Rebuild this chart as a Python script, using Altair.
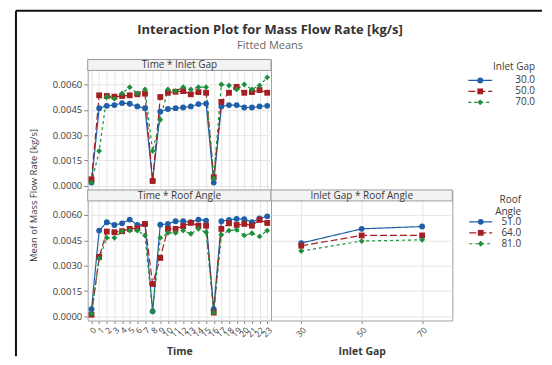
import altair as alt
import pandas as pd

FONT = "Open Sans"

# ---------------- data ----------------
times = list(range(24))
gap_levels = ["30.0", "50.0", "70.0"]
angle_levels = ["51.0", "64.0", "81.0"]
gap_ticks = ["30", "50", "70"]
y_ticks = [0.0, 0.0015, 0.0030, 0.0045, 0.0060]
main_title = "Interaction Plot for Mass Flow Rate [kg/s]"
sub_title = "Fitted Means"

# Time * Inlet Gap
tg_30 = [0.0002, 0.0046, 0.00474, 0.00478, 0.0049, 0.00486, 0.0047, 0.0046,
         0.0003, 0.0044, 0.00455, 0.0046, 0.00464, 0.0047, 0.00484, 0.00487,
         0.0002, 0.0047, 0.00478, 0.00478, 0.00464, 0.00464, 0.0047, 0.00474]
tg_50 = [0.00039, 0.00536, 0.00532, 0.00528, 0.00532, 0.00536, 0.00542, 0.00546,
         0.00029, 0.00526, 0.00551, 0.00557, 0.00561, 0.00542, 0.00555, 0.00551,
         0.00052, 0.00497, 0.00551, 0.00586, 0.00551, 0.00555, 0.00567, 0.00551]
tg_70 = [0.00019, 0.00207, 0.00528, 0.00516, 0.00547, 0.00584, 0.00547, 0.00571,
         0.00207, 0.00391, 0.00571, 0.00561, 0.00584, 0.00571, 0.00584, 0.00584,
         0.00045, 0.0060, 0.00594, 0.00571, 0.0060, 0.00571, 0.00594, 0.00642]

# Time * Roof Angle
ta_51 = [0.00043, 0.00508, 0.00557, 0.00541, 0.00551, 0.00573, 0.00541, 0.00547,
         0.0003, 0.00543, 0.00547, 0.00563, 0.00563, 0.00557, 0.00573, 0.00567,
         0.00043, 0.00563, 0.00571, 0.00577, 0.00575, 0.00557, 0.0058, 0.00592]
ta_64 = [0.0001, 0.00352, 0.00502, 0.00498, 0.00504, 0.00518, 0.00522, 0.00547,
         0.00192, 0.00346, 0.00518, 0.00518, 0.00534, 0.00553, 0.00537, 0.00537,
         0.00023, 0.00518, 0.00551, 0.00541, 0.00547, 0.00537, 0.00571, 0.00553]
ta_81 = [0.00016, 0.00342, 0.00465, 0.00465, 0.00504, 0.00508, 0.00508, 0.00479,
         0.00029, 0.00465, 0.00494, 0.00494, 0.00508, 0.00489, 0.00518, 0.00498,
         0.00023, 0.00483, 0.00508, 0.00512, 0.00479, 0.00492, 0.00473, 0.00508]

# Inlet Gap * Roof Angle
ga_51 = [0.00434, 0.00518, 0.00532]
ga_64 = [0.00418, 0.00479, 0.00479]
ga_81 = [0.00387, 0.00446, 0.00453]

# ---------------- styling ----------------
COLORS = ["#1f5fa8", "#a51f22", "#1d8f3a"]
DASHES = [[1, 0], [7, 3], [3, 3]]
SHAPES = ["circle", "square", "diamond"]
YDOM = [-0.00024, 0.00748]
STRIP_H = 11
PANEL_H = 131
LEFT_W = 184
RIGHT_W = 182
TXT = "#3a3a3a"
MSIZE = 34


def long_df(xs, series, xname, lname):
    rows = []
    for lvl, vals in series:
        for x, v in zip(xs, vals):
            rows.append({xname: x, lname: lvl, "value": v})
    return pd.DataFrame(rows)


df_tg = long_df(times, [(gap_levels[0], tg_30), (gap_levels[1], tg_50), (gap_levels[2], tg_70)], "Time", "Inlet Gap")
df_ta = long_df(times, [(angle_levels[0], ta_51), (angle_levels[1], ta_64), (angle_levels[2], ta_81)], "Time", "Roof Angle")
df_ga = long_df(gap_ticks, [(angle_levels[0], ga_51), (angle_levels[1], ga_64), (angle_levels[2], ga_81)], "Inlet Gap", "Roof Angle")


def panel(df, xfield, xsort, lfield, levels, strip, w, show_x, x_title, show_y, y_title=None, frame=False):
    color = alt.Color(f"{lfield}:N", scale=alt.Scale(domain=levels, range=COLORS), legend=None)
    dash = alt.StrokeDash(f"{lfield}:N", scale=alt.Scale(domain=levels, range=DASHES), legend=None)
    shape = alt.Shape(f"{lfield}:N", scale=alt.Scale(domain=levels, range=SHAPES), legend=None)
    xaxis_kw = dict(grid=True, domain=False, labels=show_x, ticks=show_x,
                    labelAngle=-45, labelFontSize=8.5, labelColor=TXT, tickSize=3,
                    tickColor="#888", labelPadding=2)
    if show_x:
        xaxis_kw.update(title=x_title, titleFontSize=10.5, titleFontWeight="bold",
                        titleColor=TXT, titlePadding=8)
    else:
        xaxis_kw.update(title=None)
    x = alt.X(f"{xfield}:O", sort=xsort, scale=alt.Scale(type="point", padding=0.5),
              axis=alt.Axis(**xaxis_kw))
    yaxis_kw = dict(values=y_ticks, format=".4f", grid=True, domain=False,
                    labels=show_y, ticks=show_y, labelFontSize=9.5, labelColor=TXT,
                    tickSize=4, tickColor="#888", labelPadding=2)
    if y_title:
        yaxis_kw.update(title=y_title, titleFontSize=9.5, titleFontWeight="normal",
                        titleColor=TXT, titleY=136, titlePadding=14)
    else:
        yaxis_kw.update(title=None)
    y = alt.Y("value:Q", scale=alt.Scale(domain=YDOM, nice=False, zero=False),
              axis=alt.Axis(**yaxis_kw))
    base = alt.Chart(df)
    lines = base.mark_line(strokeWidth=1.2).encode(x=x, y=y, color=color, strokeDash=dash)
    pts = base.mark_point(filled=True, size=MSIZE, opacity=1).encode(x=x, y=y, color=color, shape=shape)
    sdf = pd.DataFrame({"s": [strip], "t": [main_title], "u": [sub_title]})
    rect = alt.Chart(sdf).mark_rect(fill="#f3f3f3", stroke="#9a9a9a", strokeWidth=1).encode(
        x=alt.value(0), x2=alt.value(w), y=alt.value(0), y2=alt.value(STRIP_H))
    txt = alt.Chart(sdf).mark_text(fontSize=10, color=TXT, font=FONT, baseline="middle").encode(
        text="s:N", x=alt.value(w / 2), y=alt.value(STRIP_H / 2 + 0.5))
    layers = [lines, pts, rect, txt]
    if frame:
        # dark frame of the captured window (top and left edges)
        top_edge = alt.Chart(sdf).mark_rule(color="#111", strokeWidth=2).encode(
            x=alt.value(-72), x2=alt.value(456), y=alt.value(-49))
        left_edge = alt.Chart(sdf).mark_rule(color="#111", strokeWidth=2).encode(
            x=alt.value(-72), y=alt.value(-49), y2=alt.value(298))
        ttl = alt.Chart(sdf).mark_text(fontSize=13, fontWeight="bold", color="#333", font=FONT,
                                       baseline="middle", align="center").encode(
            text="t:N", x=alt.value(183), y=alt.value(-30))
        sub = alt.Chart(sdf).mark_text(fontSize=11, color="#666", font=FONT,
                                       baseline="middle", align="center").encode(
            text="u:N", x=alt.value(183), y=alt.value(-14))
        layers += [top_edge, left_edge, ttl, sub]
    return alt.layer(*layers).properties(
        width=w, height=PANEL_H, view=alt.ViewBackground(stroke="#a0a0a0", strokeWidth=1))


def legend_chart(title, levels, w, h, line_x0, line_x1, label_x, title_y, rows_y):
    ldf = pd.DataFrame({"lvl": levels})
    yenc = alt.Y("lvl:N", sort=levels, axis=None,
                 scale=alt.Scale(type="point", range=rows_y, padding=0))
    color = alt.Color("lvl:N", scale=alt.Scale(domain=levels, range=COLORS), legend=None)
    dash = alt.StrokeDash("lvl:N", scale=alt.Scale(domain=levels, range=DASHES), legend=None)
    shape = alt.Shape("lvl:N", scale=alt.Scale(domain=levels, range=SHAPES), legend=None)
    base = alt.Chart(ldf)
    rule = base.mark_rule(strokeWidth=1.2).encode(
        x=alt.value(line_x0), x2=alt.value(line_x1), y=yenc, color=color, strokeDash=dash)
    pt = base.mark_point(filled=True, size=MSIZE, opacity=1).encode(
        x=alt.value((line_x0 + line_x1) / 2), y=yenc, color=color, shape=shape)
    lab = base.mark_text(align="right", baseline="middle", fontSize=10, color=TXT, font=FONT).encode(
        x=alt.value(label_x), y=yenc, text="lvl:N")
    tdf = pd.DataFrame({"t": [title]})
    ttl = alt.Chart(tdf).mark_text(align="right", baseline="middle", fontSize=10, color=TXT,
                                   font=FONT, lineBreak="\n", lineHeight=12).encode(
        x=alt.value(label_x), y=alt.value(title_y), text="t:N")
    return alt.layer(rule, pt, lab, ttl).properties(
        width=w, height=h, view=alt.ViewBackground(stroke="transparent"))


def blank(w, h):
    bdf = pd.DataFrame({"t": [""]})
    return alt.Chart(bdf).mark_text().encode(
        text="t:N", x=alt.value(0), y=alt.value(0)).properties(
        width=w, height=h, view=alt.ViewBackground(stroke="transparent"))


top_left = panel(df_tg, "Time", "ascending", "Inlet Gap", gap_levels, "Time * Inlet Gap",
                 LEFT_W, False, None, True, "Mean of Mass Flow Rate [kg/s]", frame=True)
bottom_left = panel(df_ta, "Time", "ascending", "Roof Angle", angle_levels, "Time * Roof Angle",
                    LEFT_W, True, "Time", True)
bottom_right = panel(df_ga, "Inlet Gap", gap_ticks, "Roof Angle", angle_levels, "Inlet Gap * Roof Angle",
                     RIGHT_W, True, "Inlet Gap", False)

leg1 = legend_chart("Inlet Gap", gap_levels, 86, 60, 16, 40, 83, 8, [21, 43])
leg2 = legend_chart("Roof\nAngle", angle_levels, 86, 70, 17, 40, 69, 10, [32, 54])

chart = alt.concat(
    top_left, blank(RIGHT_W, PANEL_H), leg1,
    bottom_left, bottom_right, leg2,
    columns=3, spacing=0, bounds="flush",
).resolve_scale(
    color="independent", shape="independent", strokeDash="independent",
    x="independent", y="independent"
).properties(
    padding={"left": 6, "top": 0, "right": 0, "bottom": 0},
).configure(font=FONT).configure_view(stroke="transparent").configure_axis(
    gridColor="#e6e6e6", gridWidth=1, labelFont=FONT, titleFont=FONT)

chart.save("out.html", embed_options={"renderer": "svg", "actions": False})
